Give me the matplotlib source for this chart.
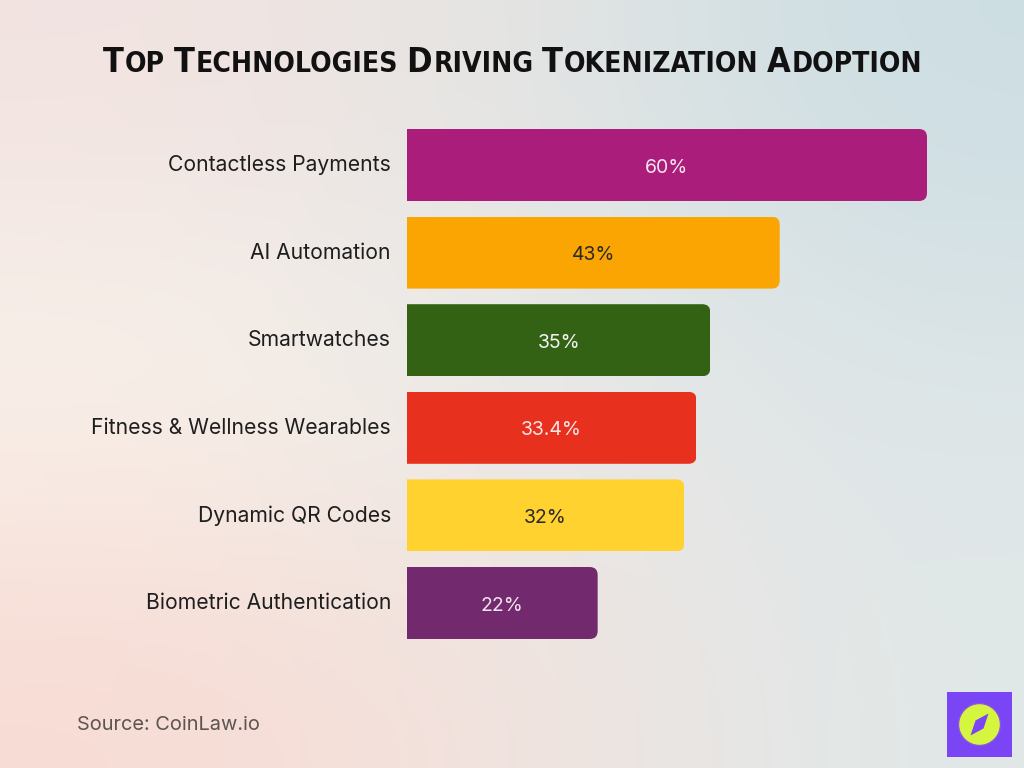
import numpy as np
import matplotlib
matplotlib.use("Agg")
import matplotlib.pyplot as plt
from matplotlib.patches import FancyBboxPatch, Rectangle, Polygon, Ellipse

categories = ["Contactless Payments", "AI Automation", "Smartwatches",
              "Fitness & Wellness Wearables", "Dynamic QR Codes",
              "Biometric Authentication"]
values = [60, 43, 35, 33.4, 32, 22]
value_labels = ["60%", "43%", "35%", "33.4%", "32%", "22%"]
bar_colors = ["#AB1D7A", "#FBA503", "#336214", "#E8301F", "#FFD22F", "#73296D"]
label_colors = ["#F6E4EF", "#2A2A2A", "#F2F2F2", "#F8E6E4", "#2A2A2A", "#F1E4F0"]
title = "Top Technologies Driving Tokenization Adoption"
source = "Source: CoinLaw.io"

W, H = 1024, 768
fig = plt.figure(figsize=(W / 100, H / 100), dpi=100)

# background gradient
bg = fig.add_axes([0, 0, 1, 1], zorder=-10)
cols = np.array([
    [[0.95, 0.89, 0.88], [0.90, 0.90, 0.89], [0.80, 0.87, 0.89]],
    [[0.98, 0.96, 0.93], [0.92, 0.92, 0.91], [0.87, 0.90, 0.91]],
    [[0.97, 0.86, 0.83], [0.95, 0.89, 0.87], [0.88, 0.91, 0.91]],
])
bg.imshow(cols, extent=[0, 1, 0, 1], aspect="auto", interpolation="bicubic")
bg.set_xlim(0, 1); bg.set_ylim(0, 1)
bg.axis("off")

px_per_x = 520 / 60
row = 87.6
left_px = 407
xmax = 70
top_px = 165 - row / 2
bottom_px = top_px + row * 6
ax = fig.add_axes([left_px / W, 1 - bottom_px / H, xmax * px_per_x / W, (bottom_px - top_px) / H])
ax.set_xlim(0, xmax)
ax.set_ylim(5.5, -0.5)
ax.axis("off")

ypos = np.arange(len(categories))
bar_h = 72 / row
bars = ax.barh(ypos, values, height=bar_h, color=bar_colors, edgecolor="none")

r_x = 8 / px_per_x
aspect = (1 / row) / (1 / px_per_x)
for b, v, y in zip(bars, values, ypos):
    clip = FancyBboxPatch((-10, y - bar_h / 2), v + 10, bar_h,
                          boxstyle=f"round,pad=0,rounding_size={r_x}",
                          mutation_aspect=aspect, transform=ax.transData,
                          facecolor="none", edgecolor="none")
    ax.add_patch(clip)
    b.set_clip_path(clip)

for v, y, lab, lc in zip(values, ypos, value_labels, label_colors):
    ax.text(v / 2, y + 0.03, lab, ha="center", va="center", fontsize=14,
            color=lc, family=["Inter", "DejaVu Sans"])

for y, c in zip(ypos, categories):
    ax.text(-16 / px_per_x, y, c, ha="right", va="center", fontsize=15.2,
            color="#1E1E1E", family=["Inter", "DejaVu Sans"])

# title in small caps, fitted to width
fig.canvas.draw()
renderer = fig.canvas.get_renderer()
tfam = ["DejaVu Sans", "Liberation Sans"]

def layout(scale):
    made = []
    x = 103
    base_y = 1 - 72 / H
    for wi, word in enumerate(title.split(" ")):
        if wi > 0:
            x += 12 * scale
        t1 = fig.text(x / W, base_y, word[0], fontsize=34 * scale, fontweight="bold",
                      fontstretch="condensed", family=tfam, color="#111111",
                      ha="left", va="baseline")
        x = t1.get_window_extent(renderer).x1 + 1
        t2 = fig.text(x / W, base_y, word[1:].upper(), fontsize=28 * scale,
                      fontweight="bold", fontstretch="condensed", family=tfam,
                      color="#111111", ha="left", va="baseline")
        x = t2.get_window_extent(renderer).x1
        made += [t1, t2]
    return made, x

made, xend = layout(1.0)
scale = (921 - 103) / (xend - 103)
for t in made:
    t.remove()
layout(scale)

fig.text(77 / W, 1 - 725 / H, source, fontsize=14.4, color="#5C5452",
         family=["Inter", "DejaVu Sans"], ha="left", va="center")

# logo
fig.patches.append(Rectangle((947 / W, 1 - 757 / H), 65 / W, 65 / H,
                             transform=fig.transFigure, facecolor="#7A45F5",
                             edgecolor="none"))
lx, ly = 979.5, 724.5
fig.patches.append(Ellipse((lx / W, 1 - ly / H), 42 / W, 42 / H,
                           transform=fig.transFigure, facecolor="#D6F53F",
                           edgecolor="#8A55E8", linewidth=1))
pts = [(lx + 9, ly - 11), (lx + 4, ly + 4), (lx - 9, ly + 11), (lx - 4, ly - 4)]
fig.patches.append(Polygon([(px / W, 1 - py / H) for px, py in pts], closed=True,
                           transform=fig.transFigure, facecolor="#7A45F5",
                           edgecolor="none"))

fig.savefig("out.png", dpi=100)
